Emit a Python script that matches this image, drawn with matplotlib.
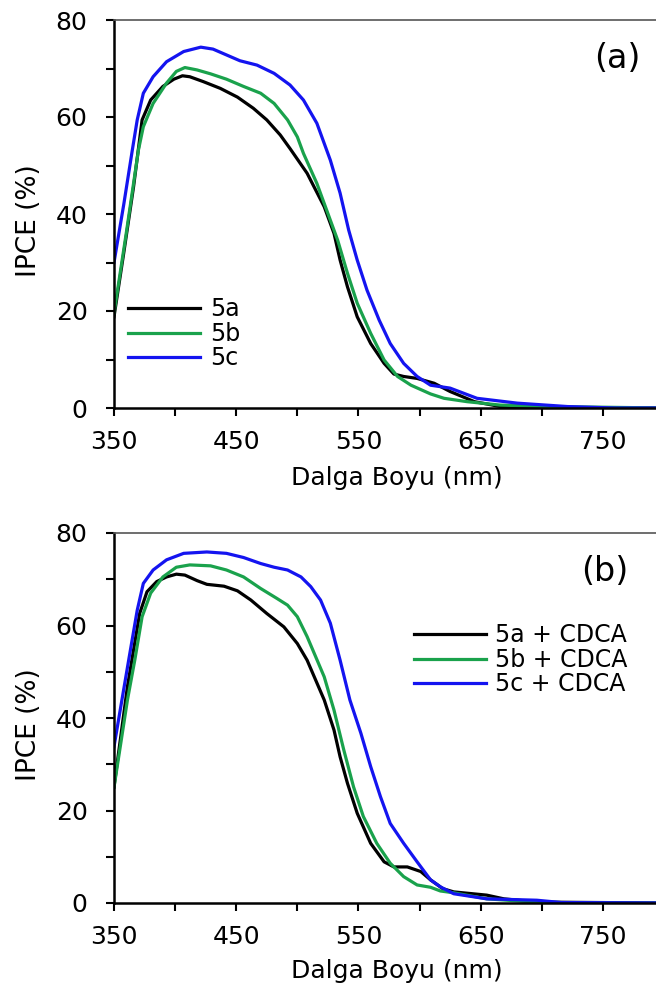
import numpy as np
import matplotlib.pyplot as plt
from matplotlib.ticker import MultipleLocator

plt.rcParams['font.family'] = ['DejaVu Sans']

# panel (a): IPCE (%) vs wavelength (nm)
wl_a_5a = [350, 358, 366, 373, 380, 390, 399, 406, 412, 423, 437, 451, 464, 475, 486, 494,
           508, 522, 530, 535, 541, 549, 560, 571, 579, 587, 598, 612, 625, 645, 666, 700, 800]
ipce_a_5a = [18.8, 32.0, 45.6, 59.4, 63.5, 66.3, 67.8, 68.5, 68.3, 67.3, 65.9, 64.1, 61.8, 59.4, 56.3, 53.5,
             48.4, 41.5, 36.0, 30.5, 25.0, 18.8, 13.3, 9.2, 7.0, 6.5, 6.1, 5.1, 3.4, 1.3, 0.3, 0.0, 0.0]

wl_a_5b = [350, 360, 370, 374, 382, 393, 401, 408, 418, 429, 442, 456, 470, 481, 492, 500,
           505, 516, 524, 533, 541, 549, 560, 571, 582, 593, 609, 620, 639, 666, 707, 800]
ipce_a_5b = [19.5, 36.0, 53.2, 58.0, 62.8, 67.0, 69.4, 70.2, 69.7, 68.9, 67.8, 66.3, 64.9, 62.8, 59.4, 55.9,
             52.5, 46.3, 40.8, 34.6, 27.8, 21.6, 15.4, 9.9, 6.5, 4.7, 2.9, 2.0, 1.3, 0.6, 0.3, 0.0]

wl_a_5c = [350, 358, 365, 369, 374, 382, 393, 407, 421, 431, 442, 453, 467, 481, 494, 505,
           516, 527, 535, 542, 549, 557, 567, 576, 587, 598, 609, 625, 647, 680, 721, 760, 800]
ipce_a_5c = [30.0, 42.0, 53.2, 59.4, 64.9, 68.3, 71.4, 73.5, 74.4, 74.0, 72.8, 71.6, 70.7, 69.0, 66.6, 63.5,
             58.7, 51.1, 44.3, 36.7, 30.5, 24.3, 18.1, 13.3, 9.2, 6.5, 4.7, 4.1, 2.0, 1.0, 0.3, 0.0, 0.0]

# panel (b): with CDCA
wl_b_5a = [350, 361, 371, 377, 385, 393, 401, 408, 418, 426, 440, 451, 462, 475, 489, 500, 508,
           522, 530, 535, 541, 549, 560, 571, 579, 590, 601, 609, 619, 628, 655, 669, 696, 800]
ipce_b_5a = [25.1, 46.8, 62.6, 67.3, 69.5, 70.5, 71.1, 70.9, 69.7, 68.9, 68.5, 67.5, 65.5, 62.6, 59.7, 56.1, 52.5,
             43.9, 37.4, 31.6, 25.9, 19.4, 12.9, 8.9, 7.8, 7.8, 6.8, 5.0, 3.1, 2.4, 1.7, 0.9, 0.2, 0.0]

wl_b_5b = [350, 361, 367, 373, 380, 390, 401, 412, 429, 442, 456, 470, 483, 492, 500, 508,
           522, 530, 538, 546, 554, 565, 576, 587, 598, 609, 617, 628, 655, 683, 724, 800]
ipce_b_5b = [25.0, 43.9, 52.5, 61.9, 67.0, 70.5, 72.6, 73.1, 72.9, 72.0, 70.5, 68.0, 65.9, 64.4, 61.9, 57.6,
             48.9, 41.7, 33.1, 25.1, 18.7, 12.9, 8.6, 5.7, 3.9, 3.4, 2.6, 2.2, 0.9, 0.4, 0.0, 0.0]

wl_b_5c = [350, 362, 369, 374, 382, 393, 407, 426, 442, 456, 470, 481, 492, 503, 511, 519,
           527, 535, 543, 552, 560, 568, 576, 587, 598, 609, 617, 628, 655, 696, 716, 800]
ipce_b_5c = [33.8, 52.5, 63.3, 69.1, 72.0, 74.2, 75.6, 75.9, 75.6, 74.7, 73.4, 72.6, 72.0, 70.5, 68.4, 65.5,
             60.5, 52.5, 43.9, 36.7, 29.5, 23.0, 17.2, 12.9, 8.9, 5.0, 3.5, 2.0, 0.9, 0.6, 0.1, 0.0]

xticks_major = [350, 450, 550, 650, 750]

black = '#000000'
green = '#1aa24c'
blue = '#1414f0'

fig = plt.figure(figsize=(6.56, 9.85), dpi=100)
W, H = 656, 985
ax1 = fig.add_axes([114 / W, 1 - 408 / H, (664 - 114) / W, (408 - 20) / H])
ax2 = fig.add_axes([114 / W, 1 - 903 / H, (664 - 114) / W, (903 - 533) / H])

lw = 2.3
ax1.plot(wl_a_5a, ipce_a_5a, color=black, lw=lw, label='5a')
ax1.plot(wl_a_5b, ipce_a_5b, color=green, lw=lw, label='5b')
ax1.plot(wl_a_5c, ipce_a_5c, color=blue, lw=lw, label='5c')

ax2.plot(wl_b_5a, ipce_b_5a, color=black, lw=lw, label='5a + CDCA')
ax2.plot(wl_b_5b, ipce_b_5b, color=green, lw=lw, label='5b + CDCA')
ax2.plot(wl_b_5c, ipce_b_5c, color=blue, lw=lw, label='5c + CDCA')

for ax, h, off in [(ax1, 388, 58), (ax2, 370, 56)]:
    ax.set_xlim(350, 800)
    ax.set_ylim(0, 80)
    ax.set_xticks(xticks_major)
    ax.xaxis.set_minor_locator(MultipleLocator(50))
    ax.yaxis.set_major_locator(MultipleLocator(20))
    ax.yaxis.set_minor_locator(MultipleLocator(10))
    ax.tick_params(which='both', direction='out', length=6, width=1.5, labelsize=18)
    ax.tick_params(axis='y', pad=13)
    ax.tick_params(axis='x', pad=10)
    ax.spines['right'].set_visible(False)
    ax.spines['left'].set_linewidth(1.8)
    ax.spines['bottom'].set_linewidth(1.8)
    ax.spines['top'].set_linewidth(1.2)
    ax.spines['top'].set_color('#555555')
    ax.set_xlabel('Dalga Boyu (nm)', fontsize=18)
    ax.set_ylabel('IPCE (%)', fontsize=19)
    ax.xaxis.set_label_coords(0.514, -off / h)
    ax.yaxis.set_label_coords(-72 / 550, 0.5 - 7 / h)

ax1.text(0.915, 0.902, '(a)', transform=ax1.transAxes, fontsize=24, ha='center', va='center')
ax2.text(0.893, 0.895, '(b)', transform=ax2.transAxes, fontsize=24, ha='center', va='center')

ax1.legend(loc='center left', bbox_to_anchor=(0.0255, 0.191), frameon=False, fontsize=17,
           handlelength=3.05, handletextpad=0.42, labelspacing=0.02, borderaxespad=0, borderpad=0)
ax2.legend(loc='center left', bbox_to_anchor=(0.5455, 0.657), frameon=False, fontsize=17,
           handlelength=3.05, handletextpad=0.38, labelspacing=0.02, borderaxespad=0, borderpad=0)

fig.savefig('out.png', dpi=100)
